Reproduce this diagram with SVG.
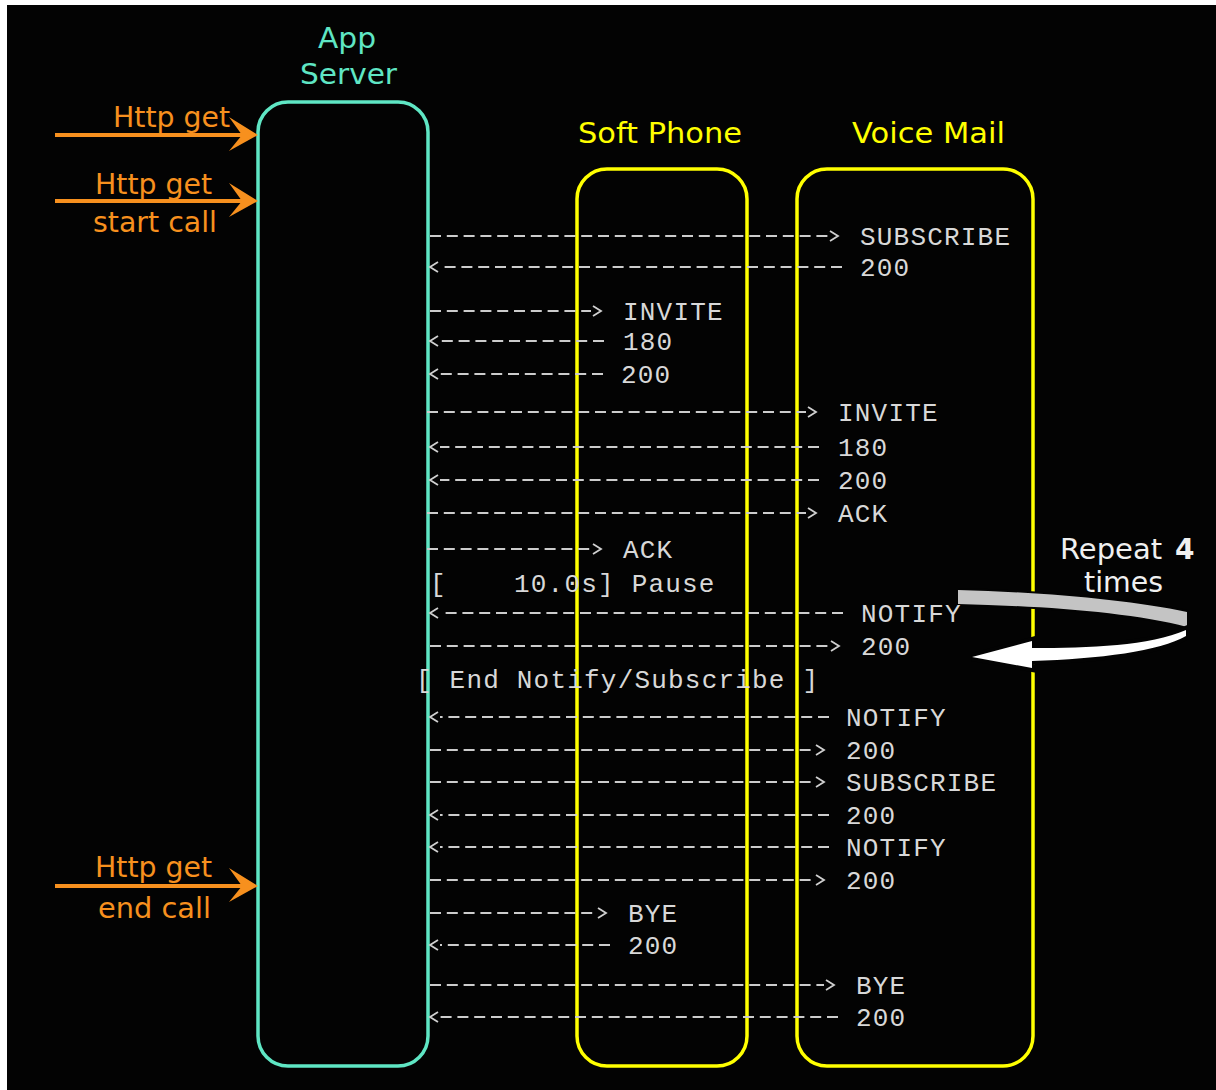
<svg xmlns="http://www.w3.org/2000/svg" width="1216" height="1090" viewBox="0 0 1216 1090">
<style>
.box{fill:none;stroke-width:3.5}
.cy{stroke:#5fe6c4}
.ye{stroke:#ffff00}
.ttl{font-family:"DejaVu Sans","Liberation Sans",sans-serif;font-size:28px}
.or{fill:#f7901e}
.msg{font-family:"Liberation Mono","DejaVu Sans Mono",monospace;font-size:26px;letter-spacing:1.2px;fill:#d8d8d8}
.ln{stroke:#cccccc;stroke-width:2;stroke-dasharray:11 5.8;fill:none}
.ha{stroke:#f7901e;stroke-width:4}
</style>
<defs>
<marker id="ah" markerUnits="userSpaceOnUse" markerWidth="14" markerHeight="14" viewBox="0 -7 14 14" refX="0" refY="0" orient="auto">
<path d="M2,-5 L10,0 L2,5" fill="none" stroke="#d0d0d0" stroke-width="1.8"/>
</marker>
</defs>
<rect x="0" y="0" width="1216" height="1090" fill="#ffffff"/>
<rect x="7" y="5" width="1209" height="1085" fill="#030303"/>

<g id="app-server">
<rect class="box cy" x="258" y="102" width="170" height="964" rx="30"/>
<text class="ttl" x="318" y="48" fill="#5fe6c4" textLength="58" lengthAdjust="spacingAndGlyphs">App</text>
<text class="ttl" x="300" y="84" fill="#5fe6c4" textLength="97" lengthAdjust="spacingAndGlyphs">Server</text>
</g>
<g id="soft-phone">
<rect class="box ye" x="577" y="169" width="170" height="897" rx="30"/>
<text class="ttl" x="578" y="143" fill="#ffff00" textLength="164" lengthAdjust="spacingAndGlyphs">Soft Phone</text>
</g>
<g id="voice-mail">
<rect class="box ye" x="797" y="169" width="236" height="897" rx="30"/>
<text class="ttl" x="852" y="143" fill="#ffff00" textLength="153" lengthAdjust="spacingAndGlyphs">Voice Mail</text>
</g>

<g id="http-requests">
<line class="ha" x1="55" y1="135" x2="248" y2="135"/>
<polygon class="or" points="229,117 258,135 229,151 242,135"/>
<text class="ttl or" x="113" y="127" textLength="117" lengthAdjust="spacingAndGlyphs">Http get</text>
<line class="ha" x1="55" y1="201" x2="248" y2="201"/>
<polygon class="or" points="229,183 258,201 229,217 242,201"/>
<text class="ttl or" x="95" y="194" textLength="117" lengthAdjust="spacingAndGlyphs">Http get</text>
<text class="ttl or" x="93" y="232" textLength="124" lengthAdjust="spacingAndGlyphs">start call</text>
<line class="ha" x1="55" y1="886" x2="248" y2="886"/>
<polygon class="or" points="229,868 258,886 229,902 242,886"/>
<text class="ttl or" x="95" y="877" textLength="117" lengthAdjust="spacingAndGlyphs">Http get</text>
<text class="ttl or" x="98" y="918" textLength="113" lengthAdjust="spacingAndGlyphs">end call</text>
</g>

<g id="repeat">
<path d="M958,590 C1040,592 1130,600 1187,612 L1187,627 C1130,612 1040,606 958,604 Z" fill="#c4c4c4" stroke="#030303" stroke-width="4" paint-order="stroke"/>
<path d="M1186,630 C1150,646 1090,648 1032,648 L1032,641 L972,657 L1032,668 L1032,661 C1100,659 1160,651 1186,636 Z" fill="#ffffff" stroke="#030303" stroke-width="8" paint-order="stroke"/>
<text class="ttl" x="1060" y="559" fill="#f0f0f0"><tspan textLength="102" lengthAdjust="spacingAndGlyphs">Repeat</tspan><tspan x="1175" font-weight="bold">4</tspan></text>
<text class="ttl" x="1084" y="592" fill="#f0f0f0" textLength="79" lengthAdjust="spacingAndGlyphs">times</text>
</g>

<g id="connectors">
<line class="ln" x1="430" y1="236" x2="828" y2="236" marker-end="url(#ah)"/>
<line class="ln" x1="842" y1="267" x2="440" y2="267" marker-end="url(#ah)"/>
<line class="ln" x1="430" y1="311" x2="591" y2="311" marker-end="url(#ah)"/>
<line class="ln" x1="604" y1="341" x2="440" y2="341" marker-end="url(#ah)"/>
<line class="ln" x1="603" y1="374" x2="440" y2="374" marker-end="url(#ah)"/>
<line class="ln" x1="427" y1="412" x2="806" y2="412" marker-end="url(#ah)"/>
<line class="ln" x1="819" y1="447" x2="440" y2="447" marker-end="url(#ah)"/>
<line class="ln" x1="819" y1="480" x2="440" y2="480" marker-end="url(#ah)"/>
<line class="ln" x1="427" y1="513" x2="806" y2="513" marker-end="url(#ah)"/>
<line class="ln" x1="427" y1="549" x2="591" y2="549" marker-end="url(#ah)"/>
<line class="ln" x1="843" y1="613" x2="440" y2="613" marker-end="url(#ah)"/>
<line class="ln" x1="430" y1="646" x2="829" y2="646" marker-end="url(#ah)"/>
<line class="ln" x1="829" y1="717" x2="440" y2="717" marker-end="url(#ah)"/>
<line class="ln" x1="430" y1="750" x2="814" y2="750" marker-end="url(#ah)"/>
<line class="ln" x1="430" y1="782" x2="814" y2="782" marker-end="url(#ah)"/>
<line class="ln" x1="829" y1="815" x2="440" y2="815" marker-end="url(#ah)"/>
<line class="ln" x1="829" y1="847" x2="440" y2="847" marker-end="url(#ah)"/>
<line class="ln" x1="430" y1="880" x2="814" y2="880" marker-end="url(#ah)"/>
<line class="ln" x1="430" y1="913" x2="596" y2="913" marker-end="url(#ah)"/>
<line class="ln" x1="610" y1="945" x2="440" y2="945" marker-end="url(#ah)"/>
<line class="ln" x1="430" y1="985" x2="824" y2="985" marker-end="url(#ah)"/>
<line class="ln" x1="838" y1="1017" x2="440" y2="1017" marker-end="url(#ah)"/>
</g>

<g id="messages" class="msg">
<text x="860" y="245">SUBSCRIBE</text>
<text x="860" y="276">200</text>
<text x="623" y="320">INVITE</text>
<text x="623" y="350">180</text>
<text x="621" y="383">200</text>
<text x="838" y="421">INVITE</text>
<text x="838" y="456">180</text>
<text x="838" y="489">200</text>
<text x="838" y="522">ACK</text>
<text x="623" y="558">ACK</text>
<text x="430" y="592" xml:space="preserve">[    10.0s] Pause</text>
<text x="861" y="622">NOTIFY</text>
<text x="861" y="655">200</text>
<text x="416" y="688" xml:space="preserve">[ End Notify/Subscribe ]</text>
<text x="846" y="726">NOTIFY</text>
<text x="846" y="759">200</text>
<text x="846" y="791">SUBSCRIBE</text>
<text x="846" y="824">200</text>
<text x="846" y="856">NOTIFY</text>
<text x="846" y="889">200</text>
<text x="628" y="922">BYE</text>
<text x="628" y="954">200</text>
<text x="856" y="994">BYE</text>
<text x="856" y="1026">200</text>
</g>
</svg>
